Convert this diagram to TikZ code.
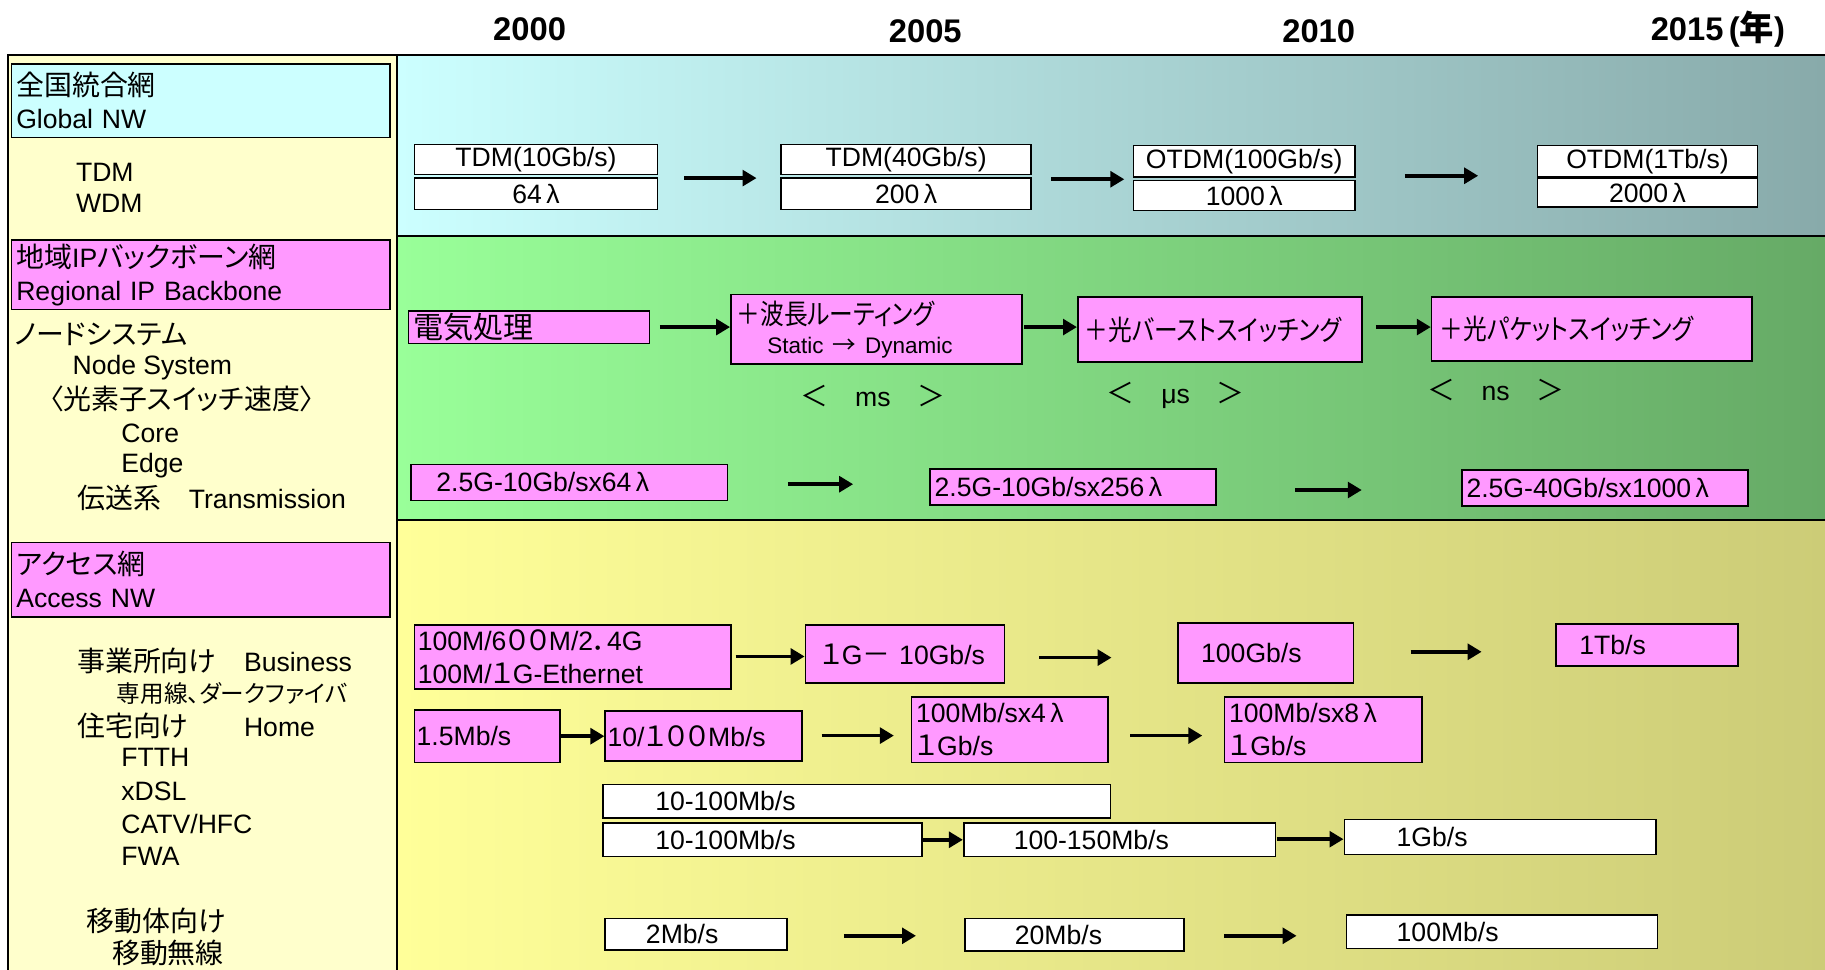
\documentclass[tikz,border=0pt]{standalone}
\usepackage{fontspec}
\setmainfont{Liberation Sans}
\newfontfamily\jp{Noto Sans CJK JP}[RawFeature=+palt,Scale=1.05]
\newfontfamily\jpk{Noto Sans CJK JP}[RawFeature=+palt,Scale=1.05,FakeStretch=0.85]
\usetikzlibrary{arrows.meta}
\definecolor{lpanel}{HTML}{FFFFCC}
\definecolor{cyanc}{HTML}{CCFFFF}
\definecolor{pinkc}{HTML}{FF99FF}
\definecolor{bal}{HTML}{CCFFFF}
\definecolor{bar}{HTML}{88AAAA}
\definecolor{bbl}{HTML}{99FF99}
\definecolor{bbr}{HTML}{66AA66}
\definecolor{bcl}{HTML}{FFFF99}
\definecolor{bcr}{HTML}{CCCC77}
\newcommand\mkbox[8]{%
 \pgfmathsetmacro\mkW{(#5-#3)*0.02}%
 \pgfmathsetmacro\mkH{(#6-#4)*0.02}%
 \pgfmathsetmacro\mkI{#7*0.02}%
 \pgfmathsetmacro\mkT{\mkW-2*\mkI}%
 \node[#2, inner xsep=\mkI cm, inner ysep=0pt, text width=\mkT cm, minimum height=\mkH cm] (#1) at ({(#3+#5)/2},{(#4+#6)/2}) {#8};}
\begin{document}
\begin{tikzpicture}[x=0.02cm, y=-0.02cm,
  every node/.style={font=\fontsize{13}{16}\selectfont},
  lab/.style={anchor=west, inner sep=0pt},
  yr/.style={font=\fontsize{16}{18}\selectfont\bfseries},
  boxbase/.style={draw=black, line width=0.8pt},
  pb/.style={boxbase, fill=pinkc, align=left},
  cb/.style={boxbase, fill=cyanc, align=left},
  wb/.style={boxbase, fill=white, align=left},
  wbc/.style={boxbase, fill=white, align=center},
  arr/.style={line width=1.8pt, -{Triangle[length=0.24cm,width=0.27cm]}},
  frame/.style={line width=0.8pt, draw=black}]
\useasboundingbox (0,0) rectangle (1568,833);
\fill[white] (0,0) rectangle (1568,833);
% left panel
\fill[lpanel] (7,47) rectangle (341,833);
% bands
\shade[left color=bal, right color=bar] (341,47) rectangle (1568,203);
\shade[left color=bbl, right color=bbr] (341,203) rectangle (1568,447);
\shade[left color=bcl, right color=bcr] (341,447) rectangle (1568,833);
\draw[frame] (7,833) -- (7,47) -- (1568,47);
\draw[frame] (341,47) -- (341,833);
\draw[frame] (341,203) -- (1568,203);
\draw[frame] (341,447) -- (1568,447);
% years
\node[yr] (y2000) at (455,25) {2000};
\node[yr] (y2005) at (795,27) {2005};
\node[yr] (y2010) at (1133,27) {2010};
\node[yr] (y2015) at (1476,25) {2015\,({\jp\bfseries 年})};
% left panel boxes and labels
\mkbox{gnw}{cb}{10}{55}{335}{118}{4}{{\jp 全国統合網}\\Global NW}
\node[lab] (tdm) at (65,148) {TDM};
\node[lab] (wdm) at (65,175) {WDM};
\mkbox{rnw}{pb}{10}{206}{335}{266}{4}{{\jp 地域}IP{\jp バックボーン網}\\Regional IP Backbone}
\node[lab] (nsj) at (12,287) {\jp ノードシステム};
\node[lab] (nse) at (62,316) {Node System};
\node[lab] (osw) at (42,343) {\jp 〈光素子スイッチ速度〉};
\node[lab] (core) at (104,372) {Core};
\node[lab] (edge) at (104,400) {Edge};
\node[lab] (trm) at (66,428) {{\jp 伝送系　}Transmission};
\mkbox{anw}{pb}{10}{466}{335}{530}{4}{{\jp アクセス網}\\Access NW};
\node[lab] (biz) at (66,568) {{\jp 事業所向け　}Business};
\node[lab] (dark) at (100,596) {\fontsize{11}{13}\selectfont\jp 専用線、ダークファイバ};
\node[lab] (home) at (66,624) {{\jp 住宅向け　　}Home};
\node[lab] (ftth) at (104,651) {FTTH};
\node[lab] (xdsl) at (104,680) {xDSL};
\node[lab] (catv) at (104,708) {CATV/HFC};
\node[lab] (fwa) at (104,736) {FWA};
\node[lab] (mob) at (74,791) {\jp 移動体向け};
\node[lab] (mobr) at (96,819) {\jp 移動無線};
% band 1
\mkbox{t10}{wbc}{356}{124}{565}{150}{5}{TDM(10Gb/s)}
\mkbox{l64}{wbc}{356}{153}{565}{180}{5}{64\,λ}
\mkbox{t40}{wbc}{671}{124}{886}{150}{5}{TDM(40Gb/s)}
\mkbox{l200}{wbc}{671}{153}{886}{180}{5}{200\,λ}
\mkbox{o100}{wbc}{974}{125}{1164}{152}{5}{OTDM(100Gb/s)}
\mkbox{l1000}{wbc}{974}{155}{1164}{181}{5}{1000\,λ}
\mkbox{o1t}{wbc}{1321}{125}{1510}{152}{5}{OTDM(1Tb/s)}
\mkbox{l2000}{wbc}{1321}{153}{1510}{178}{5}{2000\,λ}
\coordinate (a1s) at (588,153); \coordinate (a1e) at (650,153);
\coordinate (a2s) at (903,154); \coordinate (a2e) at (966,154);
\coordinate (a3s) at (1207,151); \coordinate (a3e) at (1270,151);
\draw[arr] (a1s) -- (a1e);
\draw[arr] (a2s) -- (a2e);
\draw[arr] (a3s) -- (a3e);
% band 2
\mkbox{elec}{pb}{351}{267}{558}{295}{4}{\fontsize{14}{17}\selectfont\jp 電気処理}
\mkbox{wave}{pb}{628}{253}{878}{313}{5}{{\jpk ＋波長ルーティング}\\[-2pt]\hspace*{15pt}{\fontsize{11}{13}\selectfont Static {\jp →} Dynamic}}
\mkbox{burst}{pb}{926}{255}{1170}{311}{6}{\jpk ＋光バーストスイッチング}
\mkbox{pkt}{pb}{1230}{255}{1505}{310}{7}{\jpk ＋光パケットスイッチング}
\node (ms) at (750,340) {{\jp ＜}\quad ms\quad{\jp ＞}};
\node (us) at (1010,340) {{\jp ＜}\quad μs\quad{\jp ＞}};
\node (ns) at (1285,335) {{\jp ＜}\quad ns\quad{\jp ＞}};
\coordinate (b1s) at (567,281);
\coordinate (b2s) at (880,281);
\coordinate (b3s) at (1182,281);
\draw[arr] (b1s) -- (b1s -| wave.west);
\draw[arr] (b2s) -- (b2s -| burst.west);
\draw[arr] (b3s) -- (b3s -| pkt.west);
\mkbox{tr1}{pb}{353}{399}{625}{430}{22}{2.5G-10Gb/sx64\,λ}
\mkbox{tr2}{pb}{799}{403}{1045}{434}{4}{2.5G-10Gb/sx256\,λ}
\mkbox{tr3}{pb}{1256}{404}{1502}{435}{4}{2.5G-40Gb/sx1000\,λ}
\coordinate (c1s) at (677,416); \coordinate (c1e) at (733,416);
\coordinate (c2s) at (1113,421); \coordinate (c2e) at (1170,421);
\draw[arr] (c1s) -- (c1e);
\draw[arr] (c2s) -- (c2e);
% band 3
\mkbox{bz1}{pb}{356}{537}{628}{592}{3}{100M/6{\jp ００}M/2{\jp ．}4G\\100M/{\jp １}G-Ethernet}
\mkbox{bz2}{pb}{692}{537}{863}{587}{13}{{\jp １}G{\jp －} 10Gb/s}
\mkbox{bz3}{pb}{1012}{535}{1163}{587}{20}{100Gb/s}
\mkbox{bz4}{pb}{1337}{536}{1493}{572}{20}{1Tb/s}
\coordinate (d1s) at (632,564);
\coordinate (d2s) at (893,565); \coordinate (d2e) at (955,565);
\coordinate (d3s) at (1212,560); \coordinate (d3e) at (1273,560);
\draw[arr] (d1s) -- (d1s -| bz2.west);
\draw[arr] (d2s) -- (d2e);
\draw[arr] (d3s) -- (d3e);
\mkbox{hm1}{pb}{356}{610}{481}{655}{2}{1.5Mb/s}
\mkbox{hm2}{pb}{520}{611}{689}{654}{2}{10/{\jp １００}Mb/s}
\mkbox{hm3}{pb}{783}{599}{952}{655}{4}{100Mb/sx4\,λ\\{\jp １}Gb/s}
\mkbox{hm4}{pb}{1052}{599}{1222}{655}{4}{100Mb/sx8\,λ\\{\jp １}Gb/s}
\coordinate (e2s) at (706,632); \coordinate (e2e) at (768,632);
\coordinate (e3s) at (971,632); \coordinate (e3e) at (1033,632);
\draw[arr] (hm1.east) -- (hm1.east -| hm2.west);
\draw[arr] (e2s) -- (e2e);
\draw[arr] (e3s) -- (e3e);
\mkbox{ds1}{wb}{518}{674}{954}{703}{45}{10-100Mb/s}
\mkbox{ca1}{wb}{518}{707}{792}{736}{45}{10-100Mb/s}
\mkbox{ca2}{wb}{828}{707}{1096}{736}{43}{100-150Mb/s}
\mkbox{ca3}{wb}{1155}{704}{1423}{734}{45}{1Gb/s}
\coordinate (f2s) at (1097,721);
\draw[arr] (ca1.east) -- (ca1.east -| ca2.west);
\draw[arr] (f2s) -- (f2s -| ca3.west);
\mkbox{mb1}{wb}{520}{789}{676}{816}{35}{2Mb/s}
\mkbox{mb2}{wb}{829}{789}{1017}{817}{43}{20Mb/s}
\mkbox{mb3}{wb}{1157}{786}{1424}{815}{43}{100Mb/s}
\coordinate (g1s) at (725,804); \coordinate (g1e) at (787,804);
\coordinate (g2s) at (1052,804); \coordinate (g2e) at (1114,804);
\draw[arr] (g1s) -- (g1e);
\draw[arr] (g2s) -- (g2e);
\end{tikzpicture}
\end{document}
